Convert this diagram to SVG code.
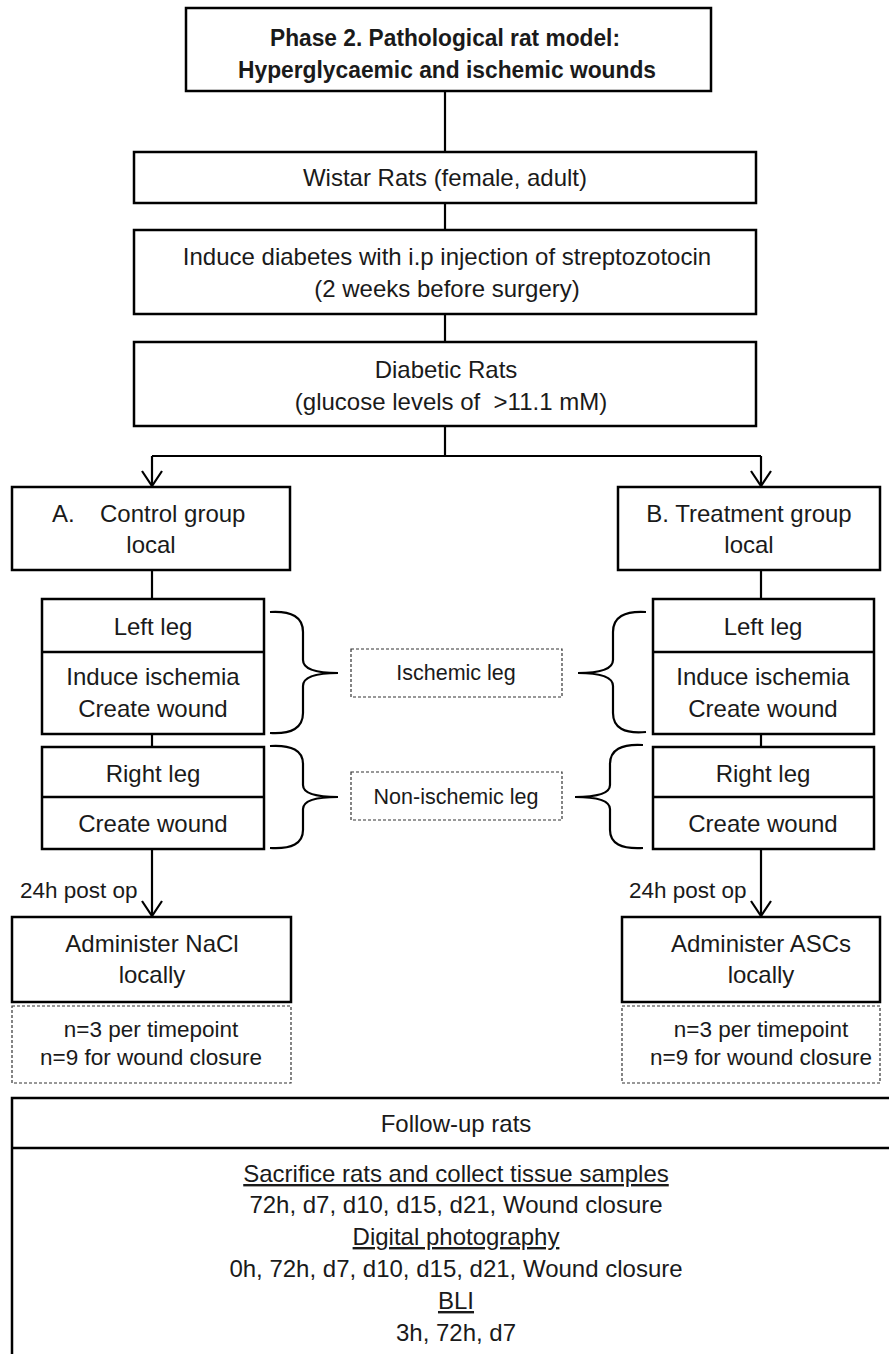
<svg xmlns="http://www.w3.org/2000/svg" width="889" height="1354" viewBox="0 0 889 1354">
<style>
  .box { fill: #ffffff; stroke: #000; stroke-width: 2.5; }
  .dash { fill: #ffffff; stroke: #333; stroke-width: 1.2; stroke-dasharray: 3 2; }
  .div { stroke: #000; stroke-width: 2.5; }
  .conn { stroke: #000; stroke-width: 2.2; fill: none; }
  .brace { stroke: #000; stroke-width: 2.2; fill: none; }
  text { font-family: "Liberation Sans", Arial, sans-serif; font-size: 24px; fill: #1a1a1a; text-anchor: middle; }
  .title { font-weight: bold; font-size: 24.5px; }
  .small { font-size: 22.5px; }
  .label { font-size: 21.5px; }
  .start { text-anchor: start; }
  .u { text-decoration: underline; }
</style>
<defs>
  <marker id="arr" viewBox="-17 -12 19 24" refX="0" refY="0" markerWidth="19" markerHeight="24" markerUnits="userSpaceOnUse" orient="auto">
    <path d="M-15,-10 L0,0 L-15,10" fill="none" stroke="#000" stroke-width="2.2"/>
  </marker>
</defs>
<rect x="0" y="0" width="889" height="1354" fill="#ffffff"/>

<g id="connectors">
  <line class="conn" x1="445" y1="91" x2="445" y2="152"/>
  <line class="conn" x1="445" y1="203" x2="445" y2="230"/>
  <line class="conn" x1="445" y1="314" x2="445" y2="342"/>
  <line class="conn" x1="445" y1="426" x2="445" y2="456"/>
  <line class="conn" x1="152" y1="456" x2="761" y2="456"/>
  <line class="conn" x1="152" y1="456" x2="152" y2="486" marker-end="url(#arr)"/>
  <line class="conn" x1="761" y1="456" x2="761" y2="486" marker-end="url(#arr)"/>
  <line class="conn" x1="152" y1="570" x2="152" y2="599"/>
  <line class="conn" x1="152" y1="734" x2="152" y2="747"/>
  <line class="conn" x1="152" y1="849" x2="152" y2="916" marker-end="url(#arr)"/>
  <line class="conn" x1="761" y1="570" x2="761" y2="599"/>
  <line class="conn" x1="761" y1="734" x2="761" y2="747"/>
  <line class="conn" x1="761" y1="849" x2="761" y2="916" marker-end="url(#arr)"/>
  <path class="brace" d="M270,612 Q303,610 303,632 L303,660 Q303,673 338,673 Q303,673 303,686 L303,713 Q303,735 270,733"/>
  <path class="brace" d="M270,746 Q303,744 303,764 L303,785 Q303,797 338,797 Q303,797 303,809 L303,830 Q303,850 270,848"/>
  <path class="brace" d="M646,612 Q613,610 613,632 L613,660 Q613,673 578,673 Q613,673 613,686 L613,713 Q613,735 646,732"/>
  <path class="brace" d="M643,745 Q610,743 610,764 L610,785 Q610,797 575,797 Q610,797 610,809 L610,830 Q610,850 643,848"/>
</g>

<g id="title">
  <rect class="box" x="186" y="8" width="525" height="83"/>
  <text class="title" x="445" y="46" textLength="350" lengthAdjust="spacingAndGlyphs">Phase 2. Pathological rat model:</text>
  <text class="title" x="447" y="78" textLength="418" lengthAdjust="spacingAndGlyphs">Hyperglycaemic and ischemic wounds</text>
</g>

<g id="wistar">
  <rect class="box" x="134" y="152" width="622" height="51"/>
  <text x="445" y="186">Wistar Rats (female, adult)</text>
</g>

<g id="induce">
  <rect class="box" x="134" y="230" width="622" height="84"/>
  <text x="447" y="265">Induce diabetes with i.p injection of streptozotocin</text>
  <text x="447" y="297">(2 weeks before surgery)</text>
</g>

<g id="diabetic">
  <rect class="box" x="134" y="342" width="622" height="84"/>
  <text x="446" y="378">Diabetic Rats</text>
  <text x="451" y="410">(glucose levels of &#160;&gt;11.1 mM)</text>
</g>

<g id="control">
  <rect class="box" x="12" y="487" width="278" height="83"/>
  <text class="start" x="52" y="522">A.</text>
  <text class="start" x="100" y="522">Control group</text>
  <text x="151" y="553">local</text>
</g>

<g id="treatment">
  <rect class="box" x="618" y="487" width="262" height="83"/>
  <text x="749" y="522">B. Treatment group</text>
  <text x="749" y="553">local</text>
</g>

<g id="control-left-leg">
  <rect class="box" x="42" y="599" width="222" height="135"/>
  <line class="div" x1="42" y1="652" x2="264" y2="652"/>
  <text x="153" y="635">Left leg</text>
  <text x="153" y="685">Induce ischemia</text>
  <text x="153" y="717">Create wound</text>
</g>

<g id="control-right-leg">
  <rect class="box" x="42" y="747" width="222" height="102"/>
  <line class="div" x1="42" y1="797" x2="264" y2="797"/>
  <text x="153" y="782">Right leg</text>
  <text x="153" y="832">Create wound</text>
</g>

<g id="treatment-left-leg">
  <rect class="box" x="653" y="599" width="221" height="135"/>
  <line class="div" x1="653" y1="652" x2="874" y2="652"/>
  <text x="763" y="635">Left leg</text>
  <text x="763" y="685">Induce ischemia</text>
  <text x="763" y="717">Create wound</text>
</g>

<g id="treatment-right-leg">
  <rect class="box" x="653" y="747" width="221" height="102"/>
  <line class="div" x1="653" y1="797" x2="874" y2="797"/>
  <text x="763" y="782">Right leg</text>
  <text x="763" y="832">Create wound</text>
</g>

<g id="ischemic-leg">
  <rect class="dash" x="351" y="649" width="211" height="48"/>
  <text class="label" x="456" y="680">Ischemic leg</text>
</g>

<g id="non-ischemic-leg">
  <rect class="dash" x="351" y="772" width="211" height="48"/>
  <text class="label" x="456" y="804">Non-ischemic leg</text>
</g>

<g id="label-24h-left">
  <text class="small start" x="20" y="898">24h post op</text>
</g>
<g id="label-24h-right">
  <text class="small start" x="629" y="898">24h post op</text>
</g>

<g id="nacl">
  <rect class="box" x="12" y="917" width="279" height="85"/>
  <text x="152" y="952">Administer NaCl</text>
  <text x="152" y="983">locally</text>
</g>

<g id="ascs">
  <rect class="box" x="622" y="917" width="258" height="85"/>
  <text x="761" y="952">Administer ASCs</text>
  <text x="761" y="983">locally</text>
</g>

<g id="n-left">
  <rect class="dash" x="12" y="1006" width="279" height="77"/>
  <text class="small" x="151" y="1037">n=3 per timepoint</text>
  <text class="small" x="151" y="1065">n=9 for wound closure</text>
</g>

<g id="n-right">
  <rect class="dash" x="622" y="1006" width="258" height="77"/>
  <text class="small" x="761" y="1037">n=3 per timepoint</text>
  <text class="small" x="761" y="1065">n=9 for wound closure</text>
</g>

<g id="follow-up">
  <rect class="box" x="12" y="1098" width="900" height="300"/>
  <line class="div" x1="12" y1="1148" x2="912" y2="1148"/>
  <text x="456" y="1132">Follow-up rats</text>
  <text class="u" x="456" y="1182">Sacrifice rats and collect tissue samples</text>
  <text x="456" y="1213">72h, d7, d10, d15, d21, Wound closure</text>
  <text class="u" x="456" y="1245">Digital photography</text>
  <text x="456" y="1277">0h, 72h, d7, d10, d15, d21, Wound closure</text>
  <text class="u" x="456" y="1309">BLI</text>
  <text x="456" y="1341">3h, 72h, d7</text>
</g>
</svg>
